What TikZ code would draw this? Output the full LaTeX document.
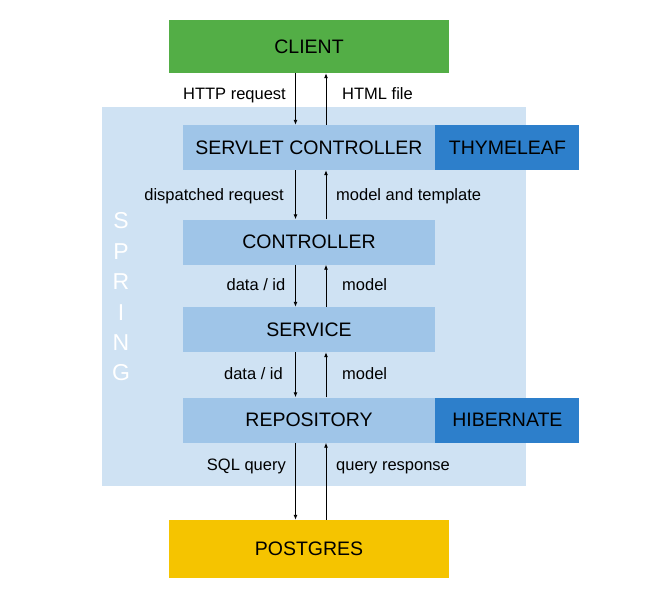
\documentclass[tikz,border=0pt]{standalone}
\usepackage{fontspec}
\setmainfont{Liberation Sans}
\usetikzlibrary{positioning}
\usetikzlibrary{arrows.meta}
\tikzset{>={Latex[length=5pt,width=4pt]}}
\definecolor{clientgreen}{HTML}{53AE46}
\definecolor{springbg}{HTML}{CFE2F3}
\definecolor{layerblue}{HTML}{9FC5E8}
\definecolor{toolblue}{HTML}{2D7FCB}
\definecolor{dbyellow}{HTML}{F5C400}

\begin{document}
\begin{tikzpicture}[x=1pt, y=-1pt,
    box/.style={inner sep=0pt, minimum height=45pt, font=\fontsize{19.5}{22}\selectfont},
    layer/.style={box, fill=layerblue, minimum width=252pt},
    tool/.style={box, fill=toolblue, minimum width=144pt},
    lbl/.style={inner sep=0pt, font=\fontsize{16.5}{19}\selectfont},
    flow/.style={->, line width=0.9pt}]
            \useasboundingbox (0, 0) rectangle (647, 597);
            \fill[springbg] (102, 107) rectangle (526, 486);
            \node[text=white, align=center, font=\fontsize{23}{30.4}\selectfont] (spring) at (121, 297) {S\\P\\R\\I\\N\\G};
            \node[box, fill=clientgreen, minimum width=280pt, minimum height=53pt] (client) at (309, 46.5) {CLIENT};
            \node[layer] (servlet) at (309, 147.5) {SERVLET CONTROLLER};
            \node[tool, right=0pt of servlet] (thymeleaf) {THYMELEAF};
            \node[layer] (controller) at (309, 242) {CONTROLLER};
            \node[layer] (service) at (309, 329.5) {SERVICE};
            \node[layer] (repository) at (309, 420) {REPOSITORY};
            \node[tool, right=0pt of repository] (hibernate) {HIBERNATE};
            \node[box, fill=dbyellow, minimum width=280pt, minimum height=58pt] (postgres) at (309, 549) {POSTGRES};
            \draw[flow] ([xshift=-13.5pt]client.south) -- ([xshift=-13.5pt]servlet.north);
            \draw[flow] ([xshift=17pt]servlet.north) -- ([xshift=17pt]client.south);
            \node[lbl, anchor=base east] (httpreq) at (286, 99) {HTTP request};
            \node[lbl, anchor=base west] (htmlfile) at (342, 99) {HTML file};
            \draw[flow] ([xshift=-13.5pt]servlet.south) -- ([xshift=-13.5pt]controller.north);
            \draw[flow] ([xshift=17pt]controller.north) -- ([xshift=17pt]servlet.south);
            \node[lbl, anchor=base east] (dispatched) at (284, 200) {dispatched request};
            \node[lbl, anchor=base west] (modeltemplate) at (336, 200) {model and template};
            \draw[flow] ([xshift=-13.5pt]controller.south) -- ([xshift=-13.5pt]service.north);
            \draw[flow] ([xshift=17pt]service.north) -- ([xshift=17pt]controller.south);
            \node[lbl, anchor=base east] (dataid1) at (285.5, 290) {data / id};
            \node[lbl, anchor=base west] (model1) at (342, 290) {model};
            \draw[flow] ([xshift=-13.5pt]service.south) -- ([xshift=-13.5pt]repository.north);
            \draw[flow] ([xshift=17pt]repository.north) -- ([xshift=17pt]service.south);
            \node[lbl, anchor=base east] (dataid2) at (283, 379) {data / id};
            \node[lbl, anchor=base west] (model2) at (342, 379) {model};
            \draw[flow] ([xshift=-13.5pt]repository.south) -- ([xshift=-13.5pt]postgres.north);
            \draw[flow] ([xshift=17pt]postgres.north) -- ([xshift=17pt]repository.south);
            \node[lbl, anchor=base east] (sqlquery) at (286, 470.5) {SQL query};
            \node[lbl, anchor=base west] (response) at (336, 470.5) {query response};
\end{tikzpicture}
\end{document}
